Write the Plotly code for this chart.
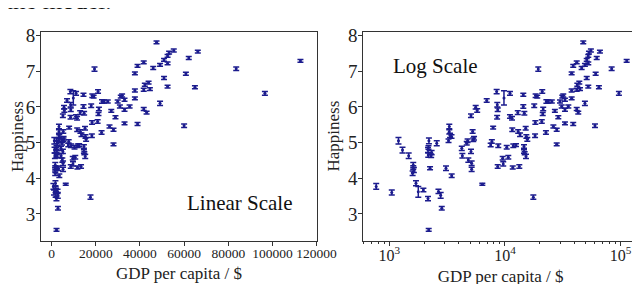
import plotly.graph_objects as go
import numpy as np

# GDP per capita ($) and happiness score with standard errors
gdp = [770, 1050, 1200, 1300, 1470, 1610, 1630, 1590, 1700, 1780,
       1970, 2160, 2190, 2160, 2170, 2250, 2200, 2570, 2320, 2660,
       2780, 2840, 3090, 3460, 3300, 3300, 3350, 3450, 3250, 4230,
       4280, 4670, 4820, 5080, 5150, 5150, 5320, 6370, 7520, 8750,
       8650, 9550, 9660, 10680, 10350, 11670, 11800, 12450, 13300, 14600,
       14600, 14800, 15200, 17580, 28000, 4750, 5250, 5400, 5080, 5580,
       5750, 6950, 7900, 8470, 8580, 8650, 8550, 9800, 11040, 11040,
       11500, 12900, 14400, 14400, 14700, 11560, 13000, 15100, 13500, 15600,
       18200, 17900, 18400, 18300, 19400, 21000, 21400, 20800, 22600, 22800,
       7700, 15300, 23700, 25400, 29900, 33000, 49100, 30900, 27000, 33000,
       41700, 43000, 28900, 38900, 60000, 26200, 28000, 31900, 37700, 37700,
       41700, 44500, 96600, 42200, 43900, 52500, 64900, 50900, 37700, 60800,
       38900, 46000, 83600, 49100, 52500, 41700, 50900, 62100, 52500, 53200,
       55300, 66200, 47500, 112700, 33000, 19000, 31300, 35300, 21200, 2180,
       2300, 1610]
happiness = [3.77, 3.60, 5.05, 4.79, 4.63, 4.37, 4.23, 4.14, 3.86, 3.62,
             3.67, 3.43, 2.55, 4.79, 4.65, 4.28, 5.05, 4.98, 4.72, 3.63,
             3.52, 3.16, 4.28, 4.07, 5.45, 5.30, 5.20, 5.17, 5.05, 4.84,
             4.63, 4.98, 4.51, 4.75, 4.25, 4.42, 5.08, 3.83, 4.93, 4.91,
             4.33, 4.56, 4.40, 4.59, 4.87, 4.30, 4.91, 4.93, 4.33, 4.89,
             4.75, 4.70, 4.61, 3.47, 4.95, 5.05, 5.31, 5.12, 5.75, 5.99,
             5.90, 6.18, 5.42, 6.43, 6.06, 5.92, 5.71, 6.25, 6.38, 5.73,
             5.68, 5.84, 6.34, 6.01, 5.82, 5.36, 5.31, 5.40, 5.22, 5.09,
             5.19, 6.03, 6.31, 5.56, 7.06, 6.43, 5.94, 5.59, 5.28, 6.15,
             5.03, 5.17, 6.15, 6.15, 6.15, 6.20, 6.10, 6.01, 5.89, 5.92,
             5.94, 5.84, 5.71, 5.52, 5.47, 5.45, 5.36, 6.32, 6.24, 6.46,
             6.48, 6.50, 6.38, 6.62, 6.68, 6.57, 6.55, 6.81, 6.94, 6.93,
             7.15, 7.09, 7.07, 7.18, 7.22, 7.25, 7.32, 7.37, 7.43, 7.52,
             7.58, 7.55, 7.81, 7.29, 5.54, 6.29, 6.29, 6.01, 5.80, 4.86,
             4.63, 4.30]
err = [0.08, 0.07, 0.09, 0.08, 0.08, 0.07, 0.07, 0.06, 0.07, 0.15,
       0.05, 0.06, 0.04, 0.07, 0.06, 0.04, 0.08, 0.07, 0.06, 0.06,
       0.08, 0.05, 0.06, 0.05, 0.06, 0.06, 0.06, 0.05, 0.05, 0.06,
       0.06, 0.05, 0.06, 0.06, 0.06, 0.06, 0.05, 0.03, 0.05, 0.05,
       0.05, 0.05, 0.06, 0.05, 0.05, 0.04, 0.05, 0.04, 0.05, 0.05,
       0.05, 0.04, 0.06, 0.06, 0.04, 0.05, 0.05, 0.05, 0.05, 0.05,
       0.05, 0.05, 0.04, 0.06, 0.06, 0.05, 0.05, 0.20, 0.05, 0.05,
       0.05, 0.05, 0.04, 0.05, 0.05, 0.05, 0.05, 0.05, 0.05, 0.05,
       0.05, 0.05, 0.05, 0.05, 0.06, 0.05, 0.05, 0.05, 0.05, 0.05,
       0.05, 0.05, 0.04, 0.04, 0.04, 0.04, 0.06, 0.04, 0.04, 0.04,
       0.04, 0.04, 0.04, 0.04, 0.05, 0.04, 0.04, 0.04, 0.04, 0.04,
       0.04, 0.04, 0.05, 0.04, 0.04, 0.04, 0.04, 0.04, 0.04, 0.04,
       0.04, 0.04, 0.05, 0.04, 0.04, 0.04, 0.04, 0.04, 0.04, 0.04,
       0.04, 0.04, 0.04, 0.04, 0.04, 0.04, 0.04, 0.04, 0.04, 0.05,
       0.05, 0.05]

y_ticks = [3, 4, 5, 6, 7, 8]
lin_ticks = [0, 20000, 40000, 60000, 80000, 100000, 120000]
lin_labels = ["0", "20000", "40000", "60000", "80000", "100000", "120000"]
log_ticks = [1000, 10000, 100000]
log_labels = ["10<sup>3</sup>", "10<sup>4</sup>", "10<sup>5</sup>"]

FONT = "Liberation Serif"
NAVY = "#1c1c8e"
W, H, OFF = 640, 284, 8  # page body margin shifts the figure by 8px


def dx(px):
    return (px - OFF) / W


def dy(py):
    return (H - (py - OFF)) / H


fig = go.Figure()
for xa, ya in (("x", "y"), ("x2", "y2")):
    fig.add_trace(go.Scatter(
        x=gdp, y=happiness, mode="markers", xaxis=xa, yaxis=ya,
        marker=dict(color=NAVY, size=3),
        error_y=dict(type="data", array=err, color=NAVY, thickness=1.5, width=3),
        showlegend=False, hoverinfo="skip"))

axis_common = dict(showline=True, linecolor="#333", linewidth=1, mirror=True,
                   ticks="outside", ticklen=4, tickcolor="#333", showgrid=False,
                   zeroline=False, automargin=False)
minor_vals = [m * 10 ** k for k in (2, 3, 4) for m in range(2, 10)]
ydom = [dy(241), dy(32)]
ymid = (ydom[0] + ydom[1]) / 2

fig.update_layout(
    width=W, height=H, margin=dict(l=0, r=0, t=0, b=0),
    paper_bgcolor="white", plot_bgcolor="white",
    font=dict(family=FONT, color="#222"),
    xaxis=dict(domain=[dx(41), dx(317)], range=[-4840, 120200], tickvals=lin_ticks,
               ticktext=lin_labels, tickfont=dict(size=13.5), anchor="y",
               ticklabelstandoff=-4,
               title=dict(text="GDP per capita / $", font=dict(size=17), standoff=6),
               **axis_common),
    yaxis=dict(domain=ydom, range=[2.24, 8.10], tickvals=y_ticks,
               tickfont=dict(size=19), anchor="x", ticklabelstandoff=-3,
               **axis_common),
    xaxis2=dict(domain=[dx(363.3), dx(638)], type="log", range=[2.775, 5.15],
                tickvals=log_ticks, ticktext=log_labels, tickfont=dict(size=16),
                anchor="y2", ticklabelstandoff=-4,
                minor=dict(tickvals=minor_vals, ticks="outside", ticklen=2, tickcolor="#333"),
                title=dict(text="GDP per capita / $", font=dict(size=17), standoff=6),
                **axis_common),
    yaxis2=dict(domain=ydom, range=[2.24, 8.10], tickvals=y_ticks,
                tickfont=dict(size=19), anchor="x2", ticklabelstandoff=-3,
                **axis_common),
    annotations=[
        dict(text="Happiness", xref="paper", yref="paper", x=dx(17.5), y=ymid,
             textangle=-90, showarrow=False, font=dict(size=17, family=FONT, color="#222"),
             xanchor="center", yanchor="middle"),
        dict(text="Happiness", xref="paper", yref="paper", x=dx(333), y=ymid,
             textangle=-90, showarrow=False, font=dict(size=17, family=FONT, color="#222"),
             xanchor="center", yanchor="middle"),
        dict(text="Linear Scale", xref="paper", yref="paper", x=dx(240), y=dy(203),
             showarrow=False, font=dict(size=21, family=FONT, color="#111"),
             xanchor="center", yanchor="middle"),
        dict(text="Log Scale", xref="paper", yref="paper", x=dx(435), y=dy(66),
             showarrow=False, font=dict(size=21, family=FONT, color="#111"),
             xanchor="center", yanchor="middle"),
        dict(text="the model.", xref="paper", yref="paper", x=dx(4), y=1.0,
             showarrow=False, font=dict(size=25, family=FONT, color="#111"),
             xanchor="left", yanchor="middle", yshift=8),
    ],
)

fig.write_html("out.html")
